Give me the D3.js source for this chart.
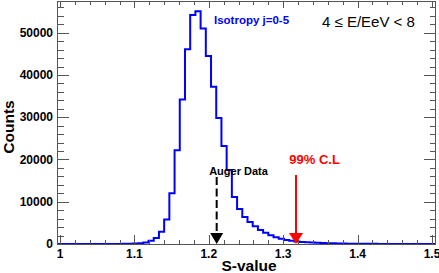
<!DOCTYPE html>
<html>
<head>
<meta charset="utf-8">
<script src="https://cdn.jsdelivr.net/npm/d3@7"></script>
<style>
  html, body { margin: 0; padding: 0; background: #fff; }
  svg { display: block; font-family: "Liberation Sans", Arial, Helvetica, sans-serif; }
</style>
</head>
<body>
<svg id="chart" width="439" height="273"></svg>
<script>
// ---- data ----
const binStart = 1.0;
const binWidth = 0.007;
const counts = [
  0, 0, 0, 0, 0, 0, 0, 0, 0, 0,
  10, 20, 40, 60, 100, 180, 350, 750, 1400, 2900,
  5800, 12000, 22200, 34200, 46100, 54200, 55100, 51000, 44500, 37200,
  29800, 23200, 17500, 11100, 8300, 6400, 5200, 4200, 3300, 2650,
  2050, 1600, 1250, 950, 780, 620, 500, 400, 330, 270,
  220, 180, 150, 120, 100, 80, 65, 50, 40, 35,
  30, 25, 20, 15, 12, 10, 8, 6, 5, 4, 3, 2
];
const xDomain = [0.996, 1.504];
const yDomain = [0, 57500];
const xTicks = [1.0, 1.1, 1.2, 1.3, 1.4, 1.5];
const xTickLabels = ["1", "1.1", "1.2", "1.3", "1.4", "1.5"];
const yTicks = [0, 10000, 20000, 30000, 40000, 50000];
const yTickLabels = ["0", "10000", "20000", "30000", "40000", "50000"];
const xMinorStep = 0.02;
const yMinorStep = 2000;
const augerValue = 1.2106;
const clValue = 1.3172;
const seriesLabel = "Isotropy j=0-5";
const energyLabel = "4 \u2264 E/EeV < 8";
const xTitle = "S-value";
const yTitle = "Counts";

// ---- layout ----
const svg = d3.select("#chart");
const L = 57, R = 435, T = 1, B = 244;
const x = d3.scaleLinear().domain(xDomain).range([L, R]);
const y = d3.scaleLinear().domain(yDomain).range([B, T]);
const axisColor = "#555";

// histogram
const pts = [[xDomain[0], 0]];
counts.forEach((c, i) => pts.push([binStart + i * binWidth, c]));
pts.push([binStart + counts.length * binWidth, 0]);
pts.push([xDomain[1], 0]);
const line = d3.line().x(d => x(d[0])).y(d => y(d[1])).curve(d3.curveStepAfter);
svg.append("path").attr("d", line(pts))
  .attr("fill", "none").attr("stroke", "#0000ff").attr("stroke-width", 2)
  .attr("stroke-linejoin", "miter");

// frame
const g = svg.append("g").attr("stroke", axisColor).attr("stroke-width", 1).attr("shape-rendering", "crispEdges");
g.append("rect").attr("x", L).attr("y", T).attr("width", R - L).attr("height", B - T).attr("fill", "none");

// x ticks
const xMinor = d3.range(1.0, xDomain[1] + 1e-9, xMinorStep);
xMinor.forEach(v => {
  const isMajor = xTicks.some(t => Math.abs(t - v) < 1e-6);
  const px = Math.round(x(v)) + 0.5;
  g.append("line").attr("x1", px).attr("x2", px).attr("y1", B).attr("y2", B - (isMajor ? 9 : 4.5));
  g.append("line").attr("x1", px).attr("x2", px).attr("y1", T).attr("y2", T + (isMajor ? 7 : 4));
});
// y ticks
const yMinor = d3.range(0, yDomain[1], yMinorStep);
yMinor.forEach(v => {
  const isMajor = yTicks.includes(v);
  const py = Math.round(y(v)) + 0.5;
  g.append("line").attr("x1", L).attr("x2", L + (isMajor ? 11.5 : 6.5)).attr("y1", py).attr("y2", py);
  g.append("line").attr("x1", R).attr("x2", R - (isMajor ? 11.5 : 5)).attr("y1", py).attr("y2", py);
});

// tick labels
xTicks.forEach((v, i) => {
  svg.append("text").attr("x", x(v)).attr("y", 257.5)
    .attr("text-anchor", "middle").attr("font-size", 12).attr("font-weight", "bold")
    .attr("fill", "#000").text(xTickLabels[i]);
});
yTicks.forEach((v, i) => {
  svg.append("text").attr("x", 53).attr("y", y(v)).attr("dy", "0.35em")
    .attr("text-anchor", "end").attr("font-size", 12).attr("font-weight", "bold")
    .attr("fill", "#000").text(yTickLabels[i]);
});

// axis titles
svg.append("text").attr("x", 249).attr("y", 270.5).attr("text-anchor", "middle")
  .attr("font-size", 15.5).attr("font-weight", "bold").attr("fill", "#000").text(xTitle);
svg.append("text").attr("transform", "translate(13.5,127) rotate(-90)").attr("text-anchor", "middle")
  .attr("font-size", 15.5).attr("font-weight", "bold").attr("fill", "#000").text(yTitle);

// labels
svg.append("text").attr("x", 214).attr("y", 23.5).attr("font-size", 11.5).attr("font-weight", "bold")
  .attr("fill", "#0000ff").text(seriesLabel);
svg.append("text").attr("x", 322).attr("y", 26.5).attr("font-size", 15)
  .attr("fill", "#000").text(energyLabel);

// Auger arrow (black dashed)
const ax = x(augerValue);
svg.append("text").attr("x", ax - 7.5).attr("y", 174.5).attr("font-size", 11).attr("font-weight", "bold")
  .attr("fill", "#000").text("Auger Data");
svg.append("line").attr("x1", ax).attr("x2", ax).attr("y1", 177).attr("y2", 234)
  .attr("stroke", "#000").attr("stroke-width", 2).attr("stroke-dasharray", "8,3.5");
svg.append("path").attr("d", `M${ax - 6.5},${233} L${ax + 6.5},${233} L${ax},${y(0)} Z`).attr("fill", "#000");

// 99% C.L arrow (red)
const cx = x(clValue);
svg.append("text").attr("x", cx - 6.7).attr("y", 163.5).attr("font-size", 13).attr("font-weight", "bold")
  .attr("fill", "#ff0000").text("99% C.L");
svg.append("line").attr("x1", cx).attr("x2", cx).attr("y1", 175).attr("y2", 234)
  .attr("stroke", "#ff0000").attr("stroke-width", 2);
svg.append("path").attr("d", `M${cx - 7},${233} L${cx + 7},${233} L${cx},${y(0)} Z`).attr("fill", "#ff0000");
</script>
</body>
</html>
